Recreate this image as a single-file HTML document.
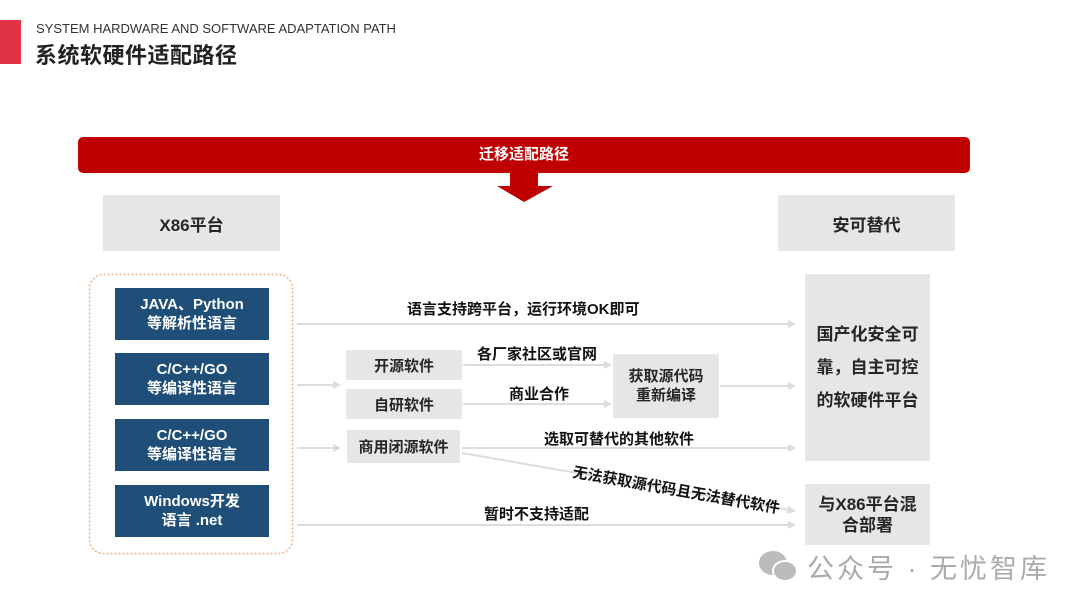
<!DOCTYPE html>
<html><head><meta charset="utf-8"><style>
body{margin:0;width:1080px;height:608px;background:#fff;position:relative;overflow:hidden;font-family:"Liberation Sans","Noto Sans CJK SC",sans-serif;}
.a{position:absolute;}
.g{position:absolute;background:#e6e6e6;color:#262626;font-weight:bold;display:flex;align-items:center;justify-content:center;text-align:center;}
.b{position:absolute;background:#1f4e79;color:#fff;font-weight:bold;font-size:15px;line-height:19px;display:flex;align-items:center;justify-content:center;text-align:center;left:115px;width:154px;height:52px;}
.l{position:absolute;font-weight:bold;font-size:15px;color:#111;white-space:nowrap;}
</style></head><body>
<div class="a" style="left:0;top:20px;width:21px;height:44px;background:#e03444"></div>
<div class="a" style="left:36px;top:21px;font-size:13px;color:#333">SYSTEM HARDWARE AND SOFTWARE ADAPTATION PATH</div>
<div class="a" style="left:35px;top:38px;font-size:22px;font-weight:bold;color:#222;letter-spacing:0.5px">系统软硬件适配路径</div>

<div class="a" style="left:78px;top:137px;width:892px;height:36px;background:#c00000;border-radius:5px;color:#fff;font-weight:bold;font-size:15px;line-height:36px;text-align:center">迁移适配路径</div>
<svg class="a" style="left:0;top:0" width="1080" height="608">
<polygon points="510,172 538,172 538,186 553,186 524,202 497,186 510,186" fill="#c00000"/>
<g stroke="#dcdcdc" stroke-width="2" fill="none">
<line x1="297" y1="324" x2="790" y2="324"/>
<line x1="297" y1="385" x2="335" y2="385"/>
<line x1="297" y1="448" x2="335" y2="448"/>
<line x1="463" y1="365" x2="606" y2="365"/>
<line x1="463" y1="404" x2="606" y2="404"/>
<line x1="720" y1="386" x2="790" y2="386"/>
<line x1="462" y1="448" x2="790" y2="448"/>
<line x1="462" y1="453" x2="790" y2="510"/>
<line x1="297" y1="525" x2="790" y2="525"/>
</g>
<g fill="#dcdcdc">
<polygon points="796,324 788,320 788,328"/>
<polygon points="341,385 333,381 333,389"/>
<polygon points="341,448 333,444 333,452"/>
<polygon points="612,365 604,361 604,369"/>
<polygon points="612,404 604,400 604,408"/>
<polygon points="796,386 788,382 788,390"/>
<polygon points="796,448 788,444 788,452"/>
<polygon points="796,511 788,506 787,514"/>
<polygon points="796,525 788,521 788,529"/>
</g>
<rect x="89.5" y="274.5" width="203" height="279" rx="14" fill="none" stroke="#f4b183" stroke-width="1.5" stroke-dasharray="2,2"/>
</svg>

<div class="g" style="left:103px;top:195px;width:177px;height:56px;font-size:17px">X86平台</div>
<div class="g" style="left:778px;top:195px;width:177px;height:56px;font-size:17px">安可替代</div>

<div class="b" style="top:288px">JAVA、Python<br>等解析性语言</div>
<div class="b" style="top:353px">C/C++/GO<br>等编译性语言</div>
<div class="b" style="top:419px">C/C++/GO<br>等编译性语言</div>
<div class="b" style="top:485px">Windows开发<br>语言 .net</div>

<div class="g" style="left:346px;top:350px;width:116px;height:30px;font-size:15px">开源软件</div>
<div class="g" style="left:346px;top:389px;width:116px;height:30px;font-size:15px">自研软件</div>
<div class="g" style="left:347px;top:430px;width:113px;height:33px;font-size:15px">商用闭源软件</div>
<div class="g" style="left:613px;top:354px;width:106px;height:64px;font-size:15px;line-height:19px">获取源代码<br>重新编译</div>
<div class="g" style="left:805px;top:274px;width:125px;height:187px;font-size:17px;line-height:33px">国产化安全可<br>靠，自主可控<br>的软硬件平台</div>
<div class="g" style="left:805px;top:484px;width:125px;height:61px;font-size:17px;line-height:21px">与X86平台混<br>合部署</div>

<div class="l" style="left:407px;top:298px">语言支持跨平台，运行环境OK即可</div>
<div class="l" style="left:477px;top:343px">各厂家社区或官网</div>
<div class="l" style="left:509px;top:383px">商业合作</div>
<div class="l" style="left:544px;top:428px">选取可替代的其他软件</div>
<div class="l" style="left:573px;top:461px;transform:rotate(10deg);transform-origin:0 50%">无法获取源代码且无法替代软件</div>
<div class="l" style="left:484px;top:503px">暂时不支持适配</div>

<svg class="a" style="left:757px;top:548px" width="44" height="36"><ellipse cx="16" cy="15" rx="14" ry="12" fill="#bbb"/><ellipse cx="28" cy="23" rx="12" ry="10" fill="#bbb" stroke="#fff" stroke-width="2"/></svg>
<div class="a" style="left:807px;top:547px;font-size:27px;color:#aaa;white-space:nowrap;letter-spacing:3px">公众号 · 无忧智库</div>
</body></html>
